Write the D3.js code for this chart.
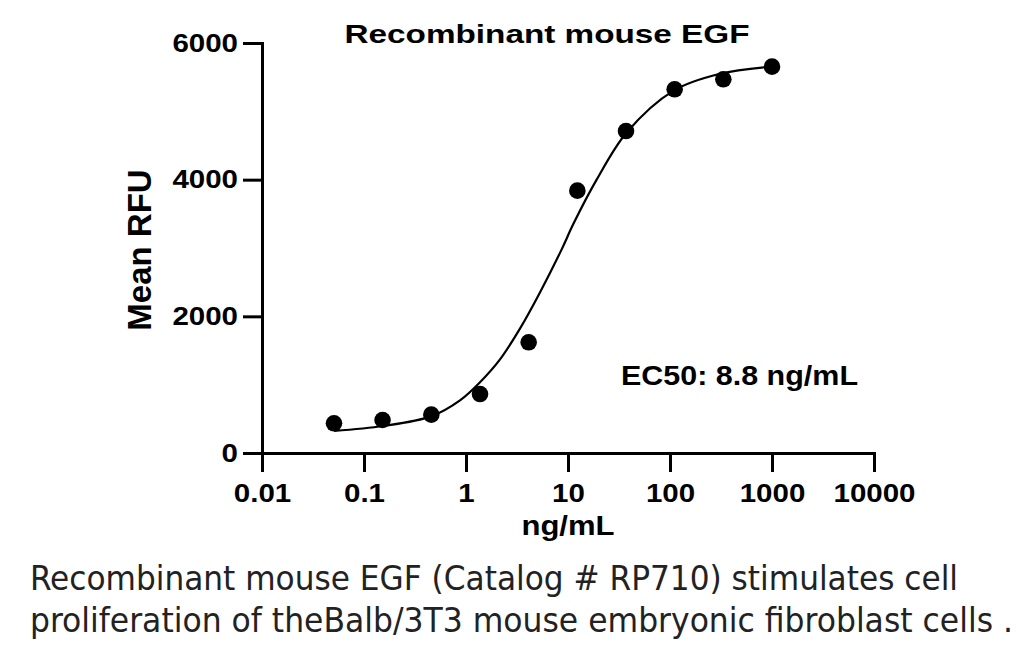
<!DOCTYPE html>
<meta charset="utf-8">
<html lang="en">
<head>
<title>Recombinant mouse EGF</title>
<script src="https://cdn.jsdelivr.net/npm/d3@7"></script>
<style>
  html, body { margin: 0; padding: 0; background: #fff; }
  .bold-text { font-family: "Liberation Sans", Arial, sans-serif; font-weight: bold; fill: #000; }
  .caption { font-family: "DejaVu Sans Condensed", "DejaVu Sans", sans-serif; font-stretch: condensed; fill: #222; }
</style>
</head>
<body>
<div id="chart"></div>
<script>
// data
const concentrations = [0.0508, 0.152, 0.457, 1.372, 4.115, 12.35, 37.04, 111.1, 333.3, 1000];
const meanRFU = [435, 483, 561, 863, 1620, 3839, 4712, 5323, 5469, 5654];

// points along the fitted curve
const fitX = [0.0509, 0.1545, 0.461, 0.873, 1.371, 2.155, 3.38, 5.31, 8.67, 11.27, 19.1, 37.6, 107.7, 309, 1000];
const fitY = [322, 395, 540, 770, 1035, 1370, 1820, 2350, 2980, 3350, 4000, 4690, 5300, 5550, 5655];

const xTicks = [0.01, 0.1, 1, 10, 100, 1000, 10000];
const xTickLabels = ["0.01", "0.1", "1", "10", "100", "1000", "10000"];
const yTicks = [0, 2000, 4000, 6000];

const titleText = "Recombinant mouse EGF";
const xTitle = "ng/mL";
const yTitle = "Mean RFU";
const ec50Text = "EC50: 8.8 ng/mL";
const captionLines = [
  "Recombinant mouse EGF (Catalog # RP710) stimulates cell",
  "proliferation of theBalb/3T3 mouse embryonic fibroblast cells ."
];

const W = 1024, H = 645;

var svg = d3.select("#chart").append("svg")
    .attr("width", W)
    .attr("height", H);

svg.append("rect").attr("width", W).attr("height", H).attr("fill", "#fff");

var x = d3.scaleLog().domain([0.01, 10000]).range([262, 874]);
var y = d3.scaleLinear().domain([0, 6000]).range([453, 43]);

// widen text horizontally (the reference glyphs look stretched)
function stretch(sel, factor) {
    sel.each(function () {
        var len = this.getComputedTextLength();
        d3.select(this).attr("textLength", len * factor).attr("lengthAdjust", "spacingAndGlyphs");
    });
}
function fitWidth(sel, width) {
    sel.attr("textLength", width).attr("lengthAdjust", "spacingAndGlyphs");
}

// y axis
var yAxis = svg.append("g")
    .attr("transform", "translate(262,0)")
    .call(d3.axisLeft(y).tickValues(yTicks).tickFormat(d3.format("d")).tickSize(19).tickSizeOuter(0).tickPadding(5));

// x axis
var xAxis = svg.append("g")
    .attr("transform", "translate(0,453)")
    .call(d3.axisBottom(x).tickValues(xTicks).tickFormat((d, i) => xTickLabels[i]).tickSize(19).tickSizeOuter(0).tickPadding(12));

[yAxis, xAxis].forEach(function (g) {
    g.select(".domain").attr("stroke", "#000").attr("stroke-width", 3).attr("stroke-linecap", "square");
    g.selectAll(".tick line").attr("stroke", "#000").attr("stroke-width", 3);
    g.selectAll(".tick text")
        .attr("class", "bold-text")
        .style("font-size", "25px")
        .attr("fill", "#000");
    stretch(g.selectAll(".tick text"), 1.18);
});

// fitted curve
var line = d3.line()
    .x(function (d) { return x(d[0]); })
    .y(function (d) { return y(d[1]); })
    .curve(d3.curveCatmullRom.alpha(0.5));

svg.append("path")
    .datum(d3.zip(fitX, fitY))
    .attr("d", line)
    .attr("fill", "none")
    .attr("stroke", "#000")
    .attr("stroke-width", 2.2);

// data points
svg.append("g").selectAll("circle")
    .data(d3.zip(concentrations, meanRFU))
    .enter().append("circle")
    .attr("cx", d => x(d[0]))
    .attr("cy", d => y(d[1]))
    .attr("r", 8.3)
    .attr("fill", "#000");

// title
svg.append("text")
    .attr("class", "bold-text")
    .attr("x", 547).attr("y", 43)
    .attr("text-anchor", "middle")
    .style("font-size", "25.5px")
    .text(titleText)
    .call(fitWidth, 405);

// axis titles
svg.append("text")
    .attr("class", "bold-text")
    .attr("x", 568).attr("y", 535)
    .attr("text-anchor", "middle")
    .style("font-size", "27px")
    .text(xTitle)
    .call(stretch, 1.15);

svg.append("text")
    .attr("class", "bold-text")
    .attr("transform", "translate(151,250)rotate(-90)")
    .attr("text-anchor", "middle")
    .style("font-size", "33px")
    .text(yTitle);

// EC50 annotation
svg.append("text")
    .attr("class", "bold-text")
    .attr("x", 621).attr("y", 385)
    .style("font-size", "28px")
    .text(ec50Text)
    .call(fitWidth, 237);

// caption below the chart
var captionWidths = [928, 983];
svg.selectAll(".caption")
    .data(captionLines)
    .enter().append("text")
    .attr("class", "caption")
    .attr("x", 30)
    .attr("y", (d, i) => 590 + i * 42)
    .style("font-size", "33px")
    .text(d => d)
    .each(function (d, i) {
        d3.select(this).attr("textLength", captionWidths[i]).attr("lengthAdjust", "spacingAndGlyphs");
    });
</script>
</body>
</html>
